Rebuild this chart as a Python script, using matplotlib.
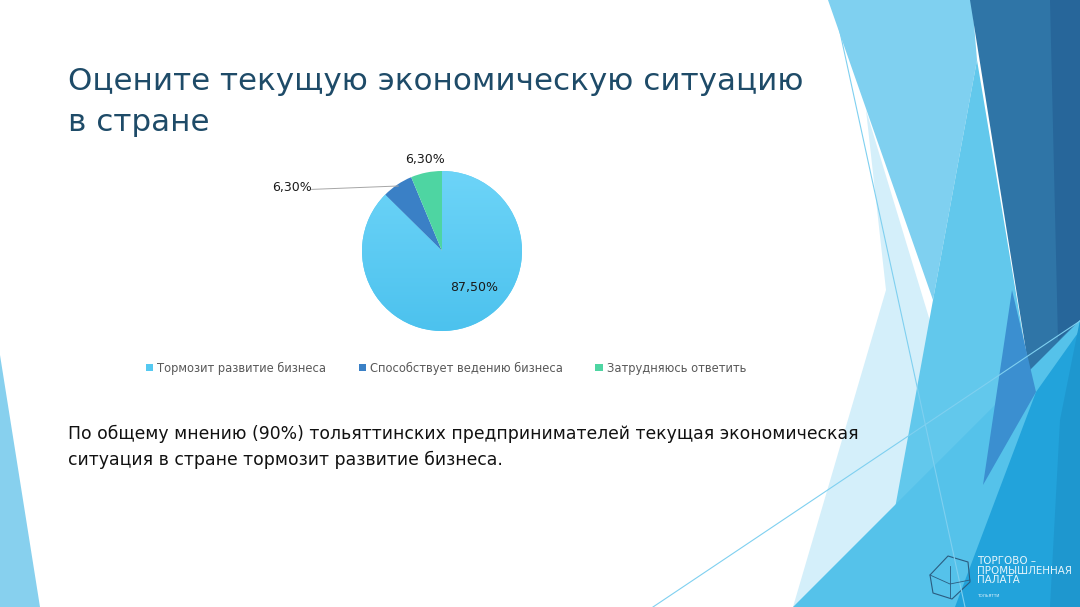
import numpy as np
import matplotlib
matplotlib.use('Agg')
import matplotlib.pyplot as plt
from matplotlib.patches import Polygon

plt.rcParams['font.family'] = ['DejaVu Sans']

# данные опроса
answers = ['Тормозит развитие бизнеса', 'Способствует ведению бизнеса', 'Затрудняюсь ответить']
shares = [87.5, 6.3, 6.3]
colors = ['#55C9F1', '#3A80C6', '#4ED5A2']

title = 'Оцените текущую экономическую ситуацию\nв стране'
summary = ('По общему мнению (90%) тольяттинских предпринимателей текущая экономическая\n'
           'ситуация в стране тормозит развитие бизнеса.')

W, H = 1080, 607
fig = plt.figure(figsize=(W / 100, H / 100), dpi=100)
fig.patch.set_facecolor('white')

# фон слайда (декоративные треугольники)
bg = fig.add_axes([0, 0, 1, 1], zorder=0)
bg.set_xlim(0, W)
bg.set_ylim(H, 0)
bg.axis('off')

shapes = [
    ('#D4EFFA', [(866, 110), (960, 420), (990, 607), (793, 607), (886, 290)]),
    ('#7FD0F0', [(828, 0), (972, 0), (977, 60), (933, 300)]),
    ('#62C8EC', [(977, 60), (1033, 395), (1000, 607), (877, 607), (933, 300)]),
    ('#2F75A7', [(970, 0), (1080, 0), (1080, 320), (1033, 395)]),
    ('#27669A', [(1050, 0), (1080, 0), (1080, 320), (1058, 340)]),
    ('#55C2EA', [(1080, 320), (1080, 607), (793, 607)]),
    ('#3B8FD0', [(1012, 290), (1036, 392), (983, 485)]),
    ('#22A3DB', [(1080, 330), (1080, 607), (955, 607), (1036, 392)]),
    ('#1E97CF', [(1080, 320), (1080, 607), (1050, 607), (1060, 420)]),
    ('#87D0EE', [(0, 355), (40, 607), (0, 607)]),
]
for c, pts in shapes:
    bg.add_patch(Polygon(pts, closed=True, facecolor=c, edgecolor='none'))

bg.plot([833, 965], [0, 607], color='#7FD0F0', lw=0.8)
bg.plot([653, 1080], [607, 321], color='#7FD0F0', lw=0.8)

# логотип
hexa = [(930, 575), (948, 556), (968, 562), (970, 582), (952, 599), (933, 593)]
bg.add_patch(Polygon(hexa, closed=True, facecolor='none', edgecolor='#2B5C80', lw=0.8))
bg.plot([930, 950, 970], [575, 584, 580], color='#2B5C80', lw=0.6)
bg.plot([950, 950], [566, 597], color='#2B5C80', lw=0.6)
bg.text(977, 556, 'ТОРГОВО –\nПРОМЫШЛЕННАЯ\nПАЛАТА', fontsize=7.4, color='#E6F5FC',
        va='top', ha='left', linespacing=0.95)
bg.text(977, 596, 'ТОЛЬЯТТИ', fontsize=3, color='#E6F5FC', va='center', ha='left')

# заголовок и вывод
bg.text(68, 102, title, fontsize=22.3, color='#1E4B68', va='center', ha='left',
        linespacing=1.55)
bg.text(68, 447, summary, fontsize=12.4, color='#111111', va='center', ha='left',
        linespacing=1.5)

# круговая диаграмма
cx, cy, r = 442, 251, 80
ax = fig.add_axes([(cx - r) / W, (H - cy - r) / H, 2 * r / W, 2 * r / H], zorder=2)
wedges, _ = ax.pie(shares, colors=colors, startangle=90, counterclock=False,
                   wedgeprops=dict(edgecolor='none'))

# мягкий градиент на большом секторе
grad = np.linspace(0, 1, 256).reshape(-1, 1)
cmap = matplotlib.colors.LinearSegmentedColormap.from_list('g', ['#4CC2EE', '#6DD4F8'])
im = ax.imshow(grad, extent=(-1, 1, -1, 1), origin='lower', cmap=cmap, zorder=1.5,
               aspect='auto')
im.set_clip_path(wedges[0])
ax.set_xlim(-1, 1)
ax.set_ylim(-1, 1)
ax.axis('off')

def fmt(v):
    return f'{v:.2f}'.replace('.', ',') + '%'

ax.text(0.4, -0.45, fmt(shares[0]), fontsize=9, color='#1A1A1A', ha='center', va='center',
        zorder=3)
ax.text(-0.21, 1.14, fmt(shares[2]), fontsize=9, color='#1A1A1A', ha='center', va='center',
        clip_on=False)
ax.text(-1.875, 0.79, fmt(shares[1]), fontsize=9, color='#1A1A1A', ha='center', va='center',
        clip_on=False)
mid = np.deg2rad(90 - 360 * (shares[0] + shares[1] / 2) / sum(shares))
ax.plot([-1.63, np.cos(mid) * 0.98], [0.77, np.sin(mid) * 0.98], color='#A6A6A6', lw=0.7,
        clip_on=False, zorder=3)

fig.legend(wedges, answers, loc='center', bbox_to_anchor=(446 / W, 1 - 368 / H),
           ncol=3, frameon=False, fontsize=8.3, labelcolor='#595959',
           handlelength=0.65, handleheight=0.65, handletextpad=0.35, columnspacing=2.8)

fig.savefig('out.png', dpi=100, facecolor='white')
